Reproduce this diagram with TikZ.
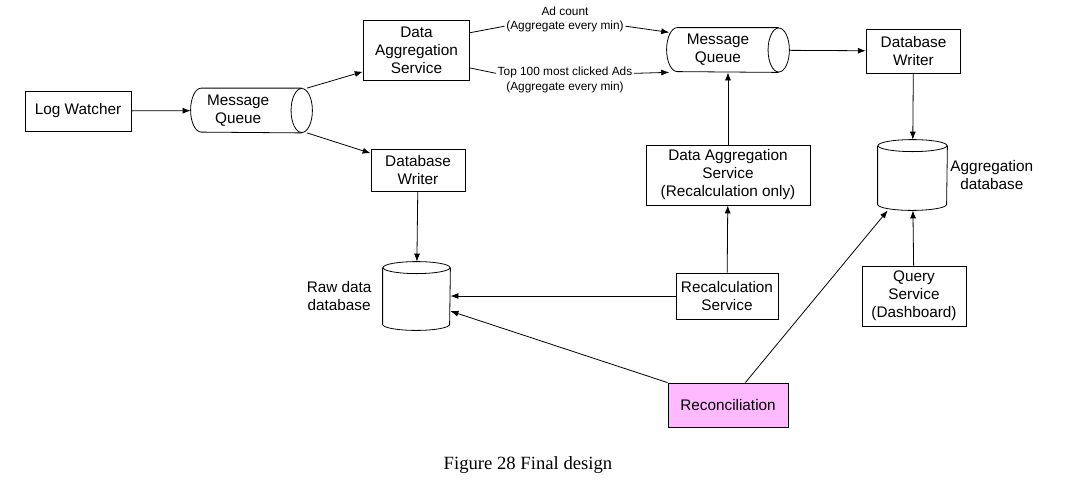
\documentclass[tikz,border=0pt]{standalone}
\usepackage{fontspec}
\setmainfont{Liberation Sans}
\newfontfamily\capfont{Liberation Serif}
\usetikzlibrary{arrows.meta}
\definecolor{reconpink}{RGB}{255,186,255}
\tikzset{
  >={Latex[length=6pt,width=4.5pt]},
  box/.style={draw, rectangle, align=center, inner sep=1pt},
  hull/.style={rectangle, inner sep=0pt},
  note/.style={align=center, inner sep=1pt, font=\fontsize{8.9}{11}\selectfont}
}
% lying cylinder round a named node
\newcommand{\drawqueue}[1]{%
  \draw (#1.east) arc[start angle=0, end angle=360, x radius=8pt, y radius=16.5pt];
  \draw ([xshift=-8pt]#1.north east) -- ([xshift=8pt]#1.north west)
    arc[start angle=90, end angle=270, x radius=8pt, y radius=16.5pt] -- ([xshift=-8pt]#1.south east);}
% standing cylinder round a named node
\newcommand{\drawstore}[2]{%
  \draw (#1.north) arc[start angle=90, end angle=450, x radius=#2, y radius=4.5pt];
  \draw ([yshift=-4.5pt]#1.north west) -- ([yshift=4.5pt]#1.south west)
    arc[start angle=180, end angle=360, x radius=#2, y radius=4.5pt] -- ([yshift=-4.5pt]#1.north east);}
\begin{document}
\begin{tikzpicture}[x=0.75pt, y=-0.75pt, font=\fontsize{11.5}{13.5}\selectfont, line width=0.6pt]
  \useasboundingbox (0,0) rectangle (1076,487);

  % ingest side
  \node[box, minimum width=79.5pt, minimum height=30pt] (logw) at (78,111) {Log Watcher};
  \node[hull, minimum width=90.75pt, minimum height=33pt] (mq1) at (251.5,110.5) {};
  \drawqueue{mq1}
  \node[align=center, inner sep=1pt] (mq1txt) at ([xshift=-10pt]mq1.center) {Message\\Queue};
  \node[box, minimum width=80pt, minimum height=45pt] (das1) at (416.5,50) {Data\\Aggregation\\Service};
  \node[box, minimum width=70.5pt, minimum height=32pt] (dbw1) at (418,170.5) {Database\\Writer};
  \node[hull, minimum width=50.25pt, minimum height=51pt] (rawdb) at (416.5,296) {};
  \drawstore{rawdb}{25.125pt}
  \node[align=center, anchor=east, inner sep=1pt] (rawlbl) at ([xshift=-7pt]rawdb.west) {Raw data\\database};

  % aggregated side
  \node[note] (adcount) at (565,19.5) {Ad count\\(Aggregate every min)};
  \node[note] (topads) at (565,80) {Top 100 most clicked Ads\\(Aggregate every min)};
  \node[hull, minimum width=91.5pt, minimum height=33pt] (mq2) at (728,50) {};
  \drawqueue{mq2}
  \node[align=center, inner sep=1pt] (mq2txt) at ([xshift=-7.5pt]mq2.center) {Message\\Queue};
  \node[box, minimum width=71pt, minimum height=33pt] (dbw2) at (913.5,51) {Database\\Writer};
  \node[hull, minimum width=51.75pt, minimum height=52.5pt] (aggdb) at (912.5,175) {};
  \drawstore{aggdb}{25.875pt}
  \node[align=center, anchor=west, inner sep=1pt] (agglbl) at ([xshift=1pt]aggdb.east) {Aggregation\\database};

  \node[box, minimum width=123pt, minimum height=45pt] (das2) at (728,175) {Data Aggregation\\Service\\(Recalculation only)};
  \node[box, minimum width=76.5pt, minimum height=34.5pt] (recalc) at (727,296) {Recalculation\\Service};
  \node[box, minimum width=78pt, minimum height=45pt] (query) at (914,296) {Query\\Service\\(Dashboard)};
  \node[box, fill=reconpink, minimum width=90pt, minimum height=33pt] (recon) at (728,405) {Reconciliation};

  \node[font=\capfont\fontsize{14}{16}\selectfont] (caption) at (528,465) {Figure 28 Final design};

  % connectors
  \draw[->] (logw) -- (mq1);
  \draw[->] ([xshift=-4pt]mq1.north east) -- (das1.202);
  \draw[->] ([xshift=-4pt]mq1.south east) -- (dbw1.160);
  \draw[->] (dbw1) -- (rawdb);
  \draw ([yshift=13pt]das1.east) -- ([yshift=-5pt]adcount.west);
  \draw[->] ([yshift=-5pt]adcount.east) -- ([xshift=2pt]mq2.164);
  \draw ([yshift=-13.5pt]das1.east) -- ([yshift=5pt]topads.west);
  \draw[->] ([yshift=5pt]topads.east) -- ([xshift=2pt]mq2.200);
  \draw[->] (mq2) -- (dbw2);
  \draw[->] (dbw2) -- (aggdb);
  \draw[->] (das2) -- (mq2);
  \draw[->] (recalc) -- (das2);
  \draw[->] (recalc) -- (rawdb);
  \draw[->] (recon.north west) -- (rawdb.-24);
  \draw[->] ([xshift=13pt]recon.north) -- (aggdb.235);
  \draw[->] (query) -- (aggdb);
\end{tikzpicture}
\end{document}
